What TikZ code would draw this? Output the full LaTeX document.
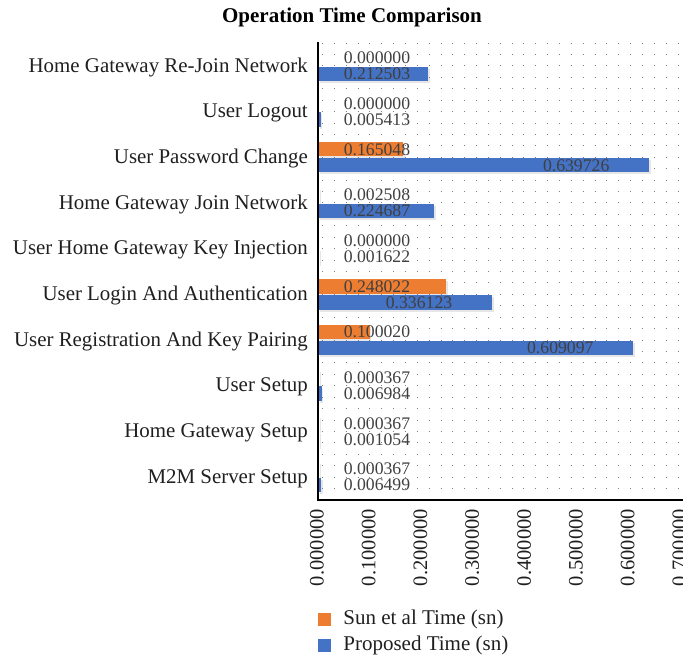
\documentclass[tikz,border=0pt]{standalone}
\usepackage{fontspec}
\setmainfont{Liberation Serif}
\usetikzlibrary{positioning,shadows}

\definecolor{sunorange}{RGB}{237,125,49}
\definecolor{propblue}{RGB}{68,114,196}
\definecolor{labelgray}{RGB}{64,64,64}

\begin{document}
\begin{tikzpicture}[
  x=1pt, y=-1pt,
  every node/.style={inner sep=0pt},
  catlabel/.style={anchor=east, font=\fontsize{20.9}{24}\selectfont, text=black!88},
  vallabel/.style={font=\fontsize{17.7}{20}\selectfont, text=labelgray},
  ticklabel/.style={anchor=east, rotate=90, font=\fontsize{20.5}{24}\selectfont, text=black!88},
  legtext/.style={anchor=west, font=\fontsize{21}{24}\selectfont, text=black!88},
  sunbar/.style={fill=sunorange, drop shadow={opacity=0.2, shadow xshift=1.5pt, shadow yshift=-2pt}},
  propbar/.style={fill=propblue, drop shadow={opacity=0.2, shadow xshift=1.5pt, shadow yshift=-2pt}},
  griddot/.style={black!50, line width=0.9pt, dash pattern=on 0.9pt off 10.95pt},
  legkey/.style={minimum size=13pt, inner sep=0pt},
]
\useasboundingbox (0,0) rectangle (683,660);

% Title
\node[font=\bfseries\fontsize{21}{24}\selectfont] (title) at (352,17) {Operation Time Comparison};

% Dotted grid
\foreach \k in {0,...,39}
  \draw[griddot] (322,{43+11.425*\k}) -- (683,{43+11.425*\k});

% Bars and labels (top to bottom)
\foreach \name/\sun/\prop [count=\i from 0] in {
    Home Gateway Re-Join Network/0.000000/0.212503,
    User Logout/0.000000/0.005413,
    User Password Change/0.165048/0.639726,
    Home Gateway Join Network/0.002508/0.224687,
    User Home Gateway Key Injection/0.000000/0.001622,
    User Login And Authentication/0.248022/0.336123,
    User Registration And Key Pairing/0.100020/0.609097,
    User Setup/0.000367/0.006984,
    Home Gateway Setup/0.000367/0.001054,
    M2M Server Setup/0.000367/0.006499} {
  \pgfmathsetmacro{\yc}{65.85+45.7*\i}
  \pgfmathsetmacro{\xsun}{318+517.7*\sun}
  \pgfmathsetmacro{\xprop}{318+517.7*\prop}
  \pgfmathsetmacro{\lsun}{max(377,\xsun-73)}
  \pgfmathsetmacro{\lprop}{max(377,\xprop-73)}
  \fill[sunbar] (318,\yc-15.25) rectangle (\xsun,\yc-0.75);
  \fill[propbar] (318,\yc+0.75) rectangle (\xprop,\yc+15.25);
  \node[catlabel] (cat\i) at (308,\yc+1.5) {\name};
  \node[vallabel] (sun\i) at (\lsun,\yc-8) {\sun};
  \node[vallabel] (prop\i) at (\lprop,\yc+8) {\prop};
}

% Axes
\draw[line width=2pt] (318,42) -- (318,501);
\draw[line width=2.5pt] (317,500) -- (683,500);

% Tick labels (the last one runs off the right edge, as in the original)
\foreach \v [count=\j from 0] in {0.000000,0.100000,0.200000,0.300000,0.400000,0.500000,0.600000,0.700000}
  \node[ticklabel] (tick\j) at ({317+51.77*\j},509) {\v};

% Legend
\node[legkey, fill=sunorange] (keysun) at (324.5,619.5) {};
\node[legtext, right=12pt of keysun] (legsun) {Sun et al Time (sn)};
\node[legkey, fill=propblue] (keyprop) at (324.5,645.5) {};
\node[legtext, right=12pt of keyprop] (legprop) {Proposed Time (sn)};

\end{tikzpicture}
\end{document}
